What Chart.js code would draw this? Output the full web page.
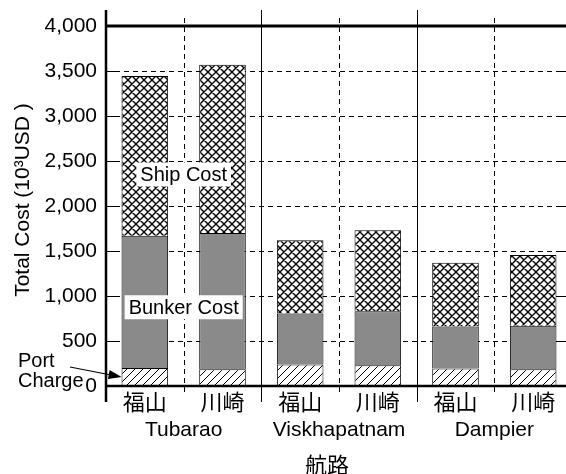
<!DOCTYPE html>
<html>
<head>
<meta charset="utf-8">
<script src="https://cdn.jsdelivr.net/npm/chart.js@4"></script>
<style>
  html, body { margin: 0; padding: 0; background: #fff; overflow: hidden; }
  #wrap { width: 600px; height: 474px; }
</style>
</head>
<body>
<div id="wrap"><canvas id="chart1" width="600" height="474"></canvas></div>
<script>
// cost breakdown per route / port (10^3 USD)
const ports = ['福山', '川崎', '福山', '川崎', '福山', '川崎'];
const routes = ['Tubarao', 'Viskhapatnam', 'Dampier'];
const portCharge = [200, 185, 240, 230, 195, 185];
const bunkerCost = [1470, 1515, 565, 600, 465, 485];
const shipCost = [1775, 1870, 815, 900, 710, 785];
const yTicks = [0, 500, 1000, 1500, 2000, 2500, 3000, 3500, 4000];

const LATIN = '"Liberation Sans", Arial, sans-serif';
const CJK = '"Noto Sans CJK JP", sans-serif';

// small repeating tiles for the hatched segments
function hatch(size, cross) {
  var c = document.createElement('canvas');
  c.width = c.height = size;
  var g = c.getContext('2d');
  g.fillStyle = '#fff';
  g.fillRect(0, 0, size, size);
  g.strokeStyle = '#000';
  g.lineWidth = cross ? 1.4 : 1;
  g.beginPath();
  for (var k = -1; k <= 1; k++) {
    g.moveTo(k * size - 1, size + 1);
    g.lineTo(k * size + size + 1, -1);
    if (cross) {
      g.moveTo(k * size - 1, -1);
      g.lineTo(k * size + size + 1, size + 1);
    }
  }
  g.stroke();
  return g.createPattern(c, 'repeat');
}

function line(ctx, x1, y1, x2, y2) {
  ctx.beginPath();
  ctx.moveTo(x1, y1);
  ctx.lineTo(x2, y2);
  ctx.stroke();
}

const frame = {
  id: 'frame',
  beforeDatasetsDraw(chart) {
    const ctx = chart.ctx;
    const {left, right, top, bottom} = chart.chartArea;
    const x = chart.scales.x, y = chart.scales.y;
    const edge = i => (x.getPixelForValue(i - 1) + x.getPixelForValue(i)) / 2;
    ctx.save();
    ctx.strokeStyle = '#000';
    ctx.lineWidth = 1;
    ctx.setLineDash([5, 4]);
    yTicks.forEach(v => {
      if (v === 0 || v === 4000) return;
      const py = Math.round(y.getPixelForValue(v)) + 0.5;
      line(ctx, left, py, right, py);
    });
    [1, 3, 5].forEach(i => {
      const px = Math.round(edge(i)) + 0.5;
      line(ctx, px, top - 8, px, bottom + 9);
    });
    ctx.setLineDash([]);
    [2, 4].forEach(i => {
      const px = Math.round(edge(i)) + 0.5;
      line(ctx, px, top - 16, px, bottom + 16);
    });
    ctx.restore();
  },
  afterDatasetsDraw(chart) {
    const ctx = chart.ctx;
    const {left, right, top, bottom} = chart.chartArea;
    const x = chart.scales.x, y = chart.scales.y;
    const edge = i => (x.getPixelForValue(i - 1) + x.getPixelForValue(i)) / 2;
    ctx.save();
    ctx.strokeStyle = '#000';
    ctx.fillStyle = '#000';

    // inward tick marks on both sides
    ctx.lineWidth = 1;
    yTicks.forEach(v => {
      const py = Math.round(y.getPixelForValue(v)) + 0.5;
      line(ctx, left, py, left + 14, py);
      line(ctx, right - 14, py, right, py);
    });

    // frame
    ctx.lineWidth = 3;
    line(ctx, left, y.getPixelForValue(4000), right + 10, y.getPixelForValue(4000));
    ctx.lineWidth = 2.5;
    line(ctx, left - 1, bottom, right + 10, bottom);
    line(ctx, left, top - 16, left, bottom + 16);

    // y axis title
    ctx.save();
    ctx.translate(23, 200);
    ctx.rotate(-Math.PI / 2);
    ctx.font = '21px ' + LATIN;
    ctx.textAlign = 'center';
    ctx.textBaseline = 'middle';
    ctx.fillText('Total Cost (10³USD )', 0, 0);
    ctx.restore();

    // segment labels
    ctx.font = '20px ' + LATIN;
    ctx.textAlign = 'center';
    ctx.textBaseline = 'middle';
    [['Ship Cost', 2350], ['Bunker Cost', 875]].forEach(([t, v]) => {
      const cx = edge(1), cy = y.getPixelForValue(v);
      const w = ctx.measureText(t).width + 8;
      ctx.fillStyle = '#fff';
      ctx.fillRect(cx - w / 2, cy - 12, w, 24);
      ctx.fillStyle = '#000';
      ctx.fillText(t, cx, cy + 1);
    });

    // port charge callout
    ctx.textAlign = 'left';
    ctx.textBaseline = 'alphabetic';
    ctx.fillText('Port', 18, 367);
    ctx.fillText('Charge', 18, 387);
    const bar = chart.getDatasetMeta(0).data[0];
    const tx = bar.x - bar.width / 2, ty = y.getPixelForValue(portCharge[0] / 2);
    const sx = 70, sy = 367;
    const a = Math.atan2(ty - sy, tx - sx);
    ctx.lineWidth = 1.2;
    line(ctx, sx, sy, tx - 8 * Math.cos(a), ty - 8 * Math.sin(a));
    ctx.beginPath();
    ctx.moveTo(tx, ty);
    ctx.lineTo(tx - 13 * Math.cos(a) + 4.5 * Math.sin(a), ty - 13 * Math.sin(a) - 4.5 * Math.cos(a));
    ctx.lineTo(tx - 13 * Math.cos(a) - 4.5 * Math.sin(a), ty - 13 * Math.sin(a) + 4.5 * Math.cos(a));
    ctx.closePath();
    ctx.fill();

    // category axis labels
    ctx.textAlign = 'center';
    ctx.textBaseline = 'middle';
    ctx.font = '22px ' + CJK;
    ports.forEach((p, i) => ctx.fillText(p, x.getPixelForValue(i), bottom + 16));
    ctx.font = '21px ' + LATIN;
    ctx.textBaseline = 'alphabetic';
    routes.forEach((r, k) => ctx.fillText(r, edge(2 * k + 1), bottom + 50));
    ctx.font = '22px ' + CJK;
    ctx.textBaseline = 'middle';
    ctx.fillText('航路', (left + right) / 2 - 12, 465);
    ctx.restore();
  }
};

new Chart(document.getElementById('chart1'), {
  type: 'bar',
  data: {
    labels: ports,
    datasets: [
      { label: 'Port Charge', data: portCharge, backgroundColor: hatch(8, false) },
      { label: 'Bunker Cost', data: bunkerCost, backgroundColor: '#8a8a8a' },
      { label: 'Ship Cost', data: shipCost, backgroundColor: hatch(8, true) }
    ]
  },
  options: {
    responsive: false,
    animation: false,
    devicePixelRatio: 1,
    layout: { padding: { top: 26, right: 28, left: 0, bottom: 0 } },
    plugins: { legend: { display: false }, tooltip: { enabled: false } },
    datasets: {
      bar: {
        barPercentage: 0.6,
        categoryPercentage: 1,
        borderColor: '#000',
        borderWidth: 1,
        borderSkipped: 'start'
      }
    },
    scales: {
      x: {
        stacked: true,
        grid: { display: false, drawTicks: false },
        border: { display: false },
        ticks: { display: false },
        afterFit(s) { s.height = 88; }
      },
      y: {
        stacked: true,
        min: 0,
        max: 4000,
        afterBuildTicks(s) { s.ticks = yTicks.map(v => ({ value: v })); },
        grid: { display: false, drawTicks: false },
        border: { display: false },
        ticks: { padding: 9, color: '#000', font: { family: LATIN, size: 21 } },
        afterFit(s) { s.width = 106; }
      }
    }
  },
  plugins: [frame]
});
</script>
</body>
</html>
